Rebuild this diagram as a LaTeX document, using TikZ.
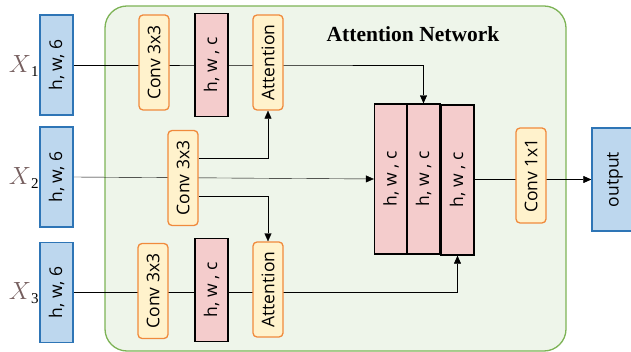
\documentclass[tikz,border=0pt]{standalone}
\usepackage{fontspec}
\setmainfont{Liberation Serif}
\newfontfamily\boxfont{Open Sans}
\usepackage{xcolor}
\usetikzlibrary{arrows.meta,backgrounds}

\definecolor{inblue}{HTML}{BDD7EE}
\definecolor{inedge}{HTML}{2E75B6}
\definecolor{convfill}{HTML}{FFF2CC}
\definecolor{convedge}{HTML}{F08A3C}
\definecolor{featpink}{HTML}{F4CCCC}
\definecolor{panelfill}{HTML}{EEF5EA}
\definecolor{paneledge}{HTML}{7DB356}
\definecolor{xgray}{HTML}{765F5F}

\newcommand{\vtext}[1]{\rotatebox{90}{#1}}
\newcommand{\xin}[1]{${\color{xgray}X}_{\hbox{\fontsize{15}{15}\selectfont #1}}$}

\begin{document}
\begin{tikzpicture}[
		x=1pt,y=-1pt,
		->,>={Triangle[length=8pt,width=7pt]},
		line width=1.7pt,
		every node/.style={font=\boxfont\fontsize{17.5}{19}\selectfont, inner sep=0pt},
		inbox/.style={
			draw=inedge,
			fill=inblue,
			line width=1.3pt,
			rectangle,
			minimum width=33pt,
			minimum height=100pt
		},
		conv/.style={
			draw=convedge,
			fill=convfill,
			line width=1.3pt,
			rounded corners=4pt,
			minimum width=30pt,
			minimum height=95pt
		},
		feat/.style={
			draw=black,
			fill=featpink,
			line width=1.3pt,
			minimum width=33pt,
			minimum height=103pt
		},
		stackbox/.style={feat, minimum width=33pt, minimum height=150pt},
		xlabel/.style={font=\fontsize{23}{25}\selectfont}
		]
		\useasboundingbox (0,0) rectangle (631,352);
		
		% Inputs
		\node[inbox] (in1) at (56.5,65) {\vtext{h, w, 6}};
		\node[inbox] (in2) at (56.5,177) {\vtext{h, w, 6}};
		\node[inbox] (in3) at (56.5,292.5) {\vtext{h, w, 6}};
		\node[xlabel] (x1) at (24,66) {\xin{1}};
		\node[xlabel] (x2) at (24,178) {\xin{2}};
		\node[xlabel] (x3) at (24,293) {\xin{3}};
		
		% Attention network
		\node[font=\bfseries\fontsize{21.5}{23}\selectfont] (title) at (413,34) {Attention Network};
		\node[conv] (c1) at (154,62.5) {\vtext{Conv 3x3}};
		\node[conv] (c2) at (183,178) {\vtext{Conv 3x3}};
		\node[conv] (c3) at (153,291) {\vtext{Conv 3x3}};
		\node[feat] (f1) at (211.5,65) {\vtext{h, w , c}};
		\node[feat] (f3) at (211.5,290) {\vtext{h, w , c}};
		\node[conv] (a1) at (268,62.5) {\vtext{Attention}};
		\node[conv] (a3) at (268,289.5) {\vtext{Attention}};
		
		% Concatenated features
		\node[stackbox] (s1) at (391,179) {\vtext{h, w , c}};
		\node[stackbox] (s2) at (423.5,179) {\vtext{h, w , c}};
		\node[stackbox] (s3) at (457.5,180) {\vtext{h, w , c}};
		
		\node[conv] (cv) at (531,175.5) {\vtext{Conv 1x1}};
		\node[inbox, minimum width=46pt, minimum height=103pt] (out) at (615,179.5) {\vtext{output}};
		
		\begin{scope}[on background layer]
			\draw[-, draw=paneledge, fill=panelfill, line width=1.3pt, rounded corners=22pt]
			(105,6) rectangle (566,351);
			% Row 1
			\draw (in1.east) -- (in1.east -| a1.east) -| (s2.north);
			% Row 2
			\draw (in2.east) -- (s1.west);
			\draw ([yshift=20pt]c2.east) -| (a1.south);
			\draw ([yshift=-18pt]c2.east) -| (a3.north);
			% Row 3
			\draw (in3.east) -- (in3.east -| a3.east) -| (s3.south);
			% Output
			\draw (s3.east |- out.west) -- (out.west);
		\end{scope}
	\end{tikzpicture}
\end{document}
